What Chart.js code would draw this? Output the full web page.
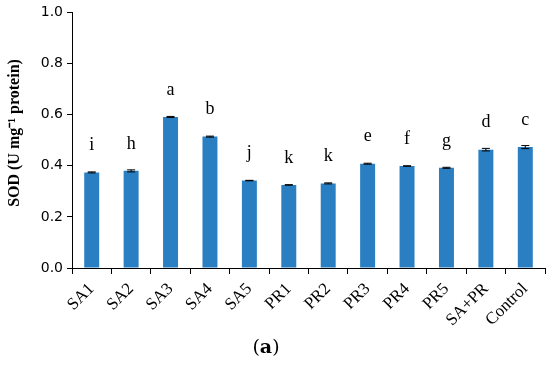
<!DOCTYPE html>
<html>
<head>
<meta charset="utf-8">
<script src="https://cdn.jsdelivr.net/npm/chart.js@4"></script>
<style>
  html, body { margin: 0; padding: 0; background: #fff; }
  #wrap { width: 550px; height: 366px; }
</style>
</head>
<body>
<div id="wrap"><canvas id="myChart" width="550" height="366"></canvas></div>
<script>
// chart data
const treatments = ['SA1', 'SA2', 'SA3', 'SA4', 'SA5', 'PR1', 'PR2', 'PR3', 'PR4', 'PR5', 'SA+PR', 'Control'];
const sodValues = [0.374, 0.380, 0.591, 0.514, 0.342, 0.325, 0.331, 0.408, 0.399, 0.392, 0.463, 0.473];
const sodErrors = [0.002, 0.004, 0.002, 0.002, 0.001, 0.001, 0.002, 0.002, 0.001, 0.002, 0.005, 0.006];
const groupLetters = ['i', 'h', 'a', 'b', 'j', 'k', 'k', 'e', 'f', 'g', 'd', 'c'];
const yTicks = [0.0, 0.2, 0.4, 0.6, 0.8, 1.0];
const yTitle = 'SOD (U mg\u207B\u00B9 protein)';

const serif = '"Liberation Serif", "Times New Roman", serif';

// error bars, letters, axis title and caption
const annotatePlugin = {
    id: 'annotate',
    afterDatasetsDraw(chart) {
        const ctx = chart.ctx;
        const y = chart.scales.y;
        const meta = chart.getDatasetMeta(0);
        ctx.save();
        meta.data.forEach((bar, i) => {
            const v = sodValues[i];
            const e = sodErrors[i];
            const top = y.getPixelForValue(v + e);
            const bot = y.getPixelForValue(v - e);
            ctx.strokeStyle = '#000';
            ctx.lineWidth = 1;
            ctx.beginPath();
            ctx.moveTo(bar.x, top); ctx.lineTo(bar.x, bot);
            ctx.moveTo(bar.x - 4, top); ctx.lineTo(bar.x + 4, top);
            ctx.moveTo(bar.x - 4, bot); ctx.lineTo(bar.x + 4, bot);
            ctx.stroke();

            ctx.fillStyle = '#000';
            ctx.font = '18px ' + serif;
            ctx.textAlign = 'center';
            ctx.textBaseline = 'middle';
            ctx.fillText(groupLetters[i], bar.x, y.getPixelForValue(v) - 27);
        });

        // rotated y axis title
        ctx.save();
        ctx.translate(15, 133);
        ctx.rotate(-Math.PI / 2);
        ctx.font = 'bold 16px ' + serif;
        ctx.textAlign = 'center';
        ctx.textBaseline = 'middle';
        ctx.fillText(yTitle, 0, 0);
        ctx.restore();

        // caption under the chart
        ctx.textBaseline = 'middle';
        ctx.textAlign = 'left';
        const cy = 348;
        ctx.font = '19px "DejaVu Serif", serif';
        const wOpen = ctx.measureText('(').width;
        ctx.font = 'bold 19px "DejaVu Serif", serif';
        const wA = ctx.measureText('a').width;
        const start = 266 - (wOpen * 2 + wA) / 2;
        ctx.font = '19px "DejaVu Serif", serif';
        ctx.fillText('(', start, cy);
        ctx.font = 'bold 19px "DejaVu Serif", serif';
        ctx.fillText('a', start + wOpen, cy);
        ctx.font = '19px "DejaVu Serif", serif';
        ctx.fillText(')', start + wOpen + wA, cy);
        ctx.restore();
    }
};

function createChart() {
    const ctx = document.getElementById('myChart').getContext('2d');
    new Chart(ctx, {
        type: 'bar',
        data: {
            labels: treatments,
            datasets: [{
                data: sodValues,
                backgroundColor: '#2a7fc2',
                borderWidth: 0,
                barPercentage: 0.38,
                categoryPercentage: 1.0
            }]
        },
        options: {
            responsive: false,
            animation: false,
            layout: { padding: { top: 5, right: 5, left: 0, bottom: 0 } },
            plugins: {
                legend: { display: false },
                tooltip: { enabled: false }
            },
            scales: {
                x: {
                    offset: true,
                    grid: {
                        offset: true,
                        drawOnChartArea: false,
                        color: '#000',
                        tickLength: 6
                    },
                    border: { color: '#000', width: 1 },
                    ticks: {
                        color: '#000',
                        font: { family: serif, size: 17 },
                        minRotation: 45,
                        maxRotation: 45,
                        padding: 5
                    },
                    afterFit(scale) { scale.height = 98; }
                },
                y: {
                    min: 0,
                    max: 1.0,
                    afterBuildTicks(scale) {
                        scale.ticks = yTicks.map(v => ({ value: v }));
                    },
                    grid: {
                        drawOnChartArea: false,
                        color: '#000',
                        tickLength: 5
                    },
                    border: { color: '#000', width: 1 },
                    ticks: {
                        color: '#000',
                        font: { family: '"DejaVu Sans", sans-serif', size: 14 },
                        padding: 4,
                        callback: v => v.toFixed(1)
                    },
                    afterFit(scale) { scale.width = 72; }
                }
            }
        },
        plugins: [annotatePlugin]
    });
}

window.onload = createChart;
</script>
</body>
</html>
